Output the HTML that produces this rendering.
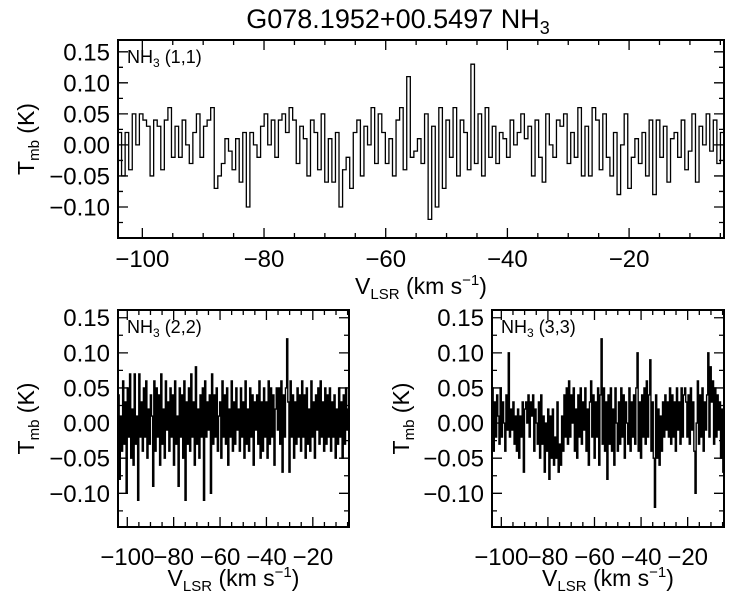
<!DOCTYPE html>
<html><head><meta charset="utf-8"><style>
html,body{margin:0;padding:0;background:#fff;}
svg{display:block;font-family:"Liberation Sans",Arial,sans-serif;}
</style></head><body>
<svg id="fig" width="750" height="600" viewBox="0 0 750 600">
<text x="398" y="28" font-size="27" text-anchor="middle">G078.1952+00.5497 NH<tspan font-size="18" dy="6">3</tspan></text>
</svg>
<script>
const vStart = -104, vEnd = -4.4;
const spec11 = [0.02,-0.05,0.02,-0.04,0.05,0.00,0.05,0.04,0.03,-0.05,0.04,0.03,-0.04,0.04,0.06,-0.02,0.03,-0.02,0.04,0.00,-0.03,0.02,0.05,-0.02,
0.03,0.04,0.06,-0.07,-0.05,-0.03,0.01,-0.01,-0.04,0.01,-0.06,0.02,-0.10,0.02,0.00,-0.02,0.03,
0.05,0.00,0.04,-0.02,0.04,0.05,0.02,0.06,0.04,-0.03,0.03,0.01,-0.05,0.04,0.02,-0.04,0.05,
-0.06,0.01,-0.06,0.02,-0.10,-0.04,-0.02,-0.07,0.02,0.04,-0.05,0.03,0.00,0.06,-0.03,0.05,0.02,
-0.03,0.01,-0.05,0.04,0.06,-0.04,0.11,-0.02,-0.01,0.01,-0.03,0.05,-0.12,0.03,-0.10,0.06,-0.07,
0.04,-0.02,0.06,-0.05,0.04,0.02,-0.04,0.13,-0.03,0.05,-0.05,0.06,-0.02,0.03,-0.03,0.02,0.01,
-0.02,0.04,0.00,0.02,0.05,0.01,0.03,-0.05,0.04,-0.02,-0.06,0.05,0.00,-0.02,0.04,0.03,0.05,
-0.03,0.02,-0.02,0.06,-0.05,0.03,-0.05,0.06,0.04,-0.04,0.05,-0.02,-0.05,0.02,-0.08,0.00,0.05,
-0.07,-0.02,0.01,-0.03,0.02,-0.05,0.04,-0.08,0.04,-0.02,0.03,-0.06,0.01,0.02,-0.02,0.04,-0.04,
-0.01,0.05,-0.06,0.03,0.00,0.05,-0.01,0.04,-0.03,0.02];
const spec22 = [0.04,-0.08,0.01,-0.04,0.06,-0.03,0.03,-0.10,0.05,-0.02,0.07,-0.05,0.02,-0.06,0.07,-0.03,0.01,-0.11,0.07,-0.02,
0.03,-0.04,0.05,-0.02,0.06,-0.05,0.02,-0.03,0.04,0.01,-0.09,0.06,-0.04,0.05,-0.02,0.04,-0.06,0.07,-0.03,0.02,
-0.05,0.06,-0.01,0.03,-0.04,0.05,-0.02,0.04,-0.06,0.06,-0.03,0.01,-0.09,0.05,-0.02,0.04,-0.05,0.06,-0.11,0.03,
-0.03,0.05,-0.04,0.07,-0.02,0.03,-0.06,0.08,-0.03,0.02,-0.05,0.04,-0.02,0.05,-0.11,0.06,-0.02,0.03,-0.01,0.04,
-0.10,0.07,-0.03,0.04,-0.02,0.05,-0.04,0.01,0.03,-0.05,0.06,-0.02,0.04,-0.03,0.05,-0.06,0.02,-0.02,0.06,-0.04,
0.03,-0.03,0.05,-0.01,0.02,-0.04,0.05,-0.02,0.03,-0.05,0.06,-0.03,0.02,-0.04,0.05,-0.02,0.04,-0.06,0.03,-0.01,
0.04,-0.03,0.06,-0.05,0.03,-0.04,0.05,-0.02,0.03,-0.05,0.06,-0.03,0.05,-0.02,0.04,-0.06,0.02,0.05,-0.01,0.05,
-0.03,0.06,-0.07,0.04,-0.02,0.05,0.12,0.03,-0.07,0.06,-0.02,0.04,-0.05,0.03,-0.03,0.05,-0.02,0.04,-0.04,0.06,
-0.02,0.04,-0.05,0.05,-0.03,0.02,-0.04,0.06,-0.02,0.03,-0.05,0.04,-0.01,0.05,-0.03,0.06,-0.02,0.03,-0.04,0.05,
-0.03,0.04,-0.02,0.05,-0.04,0.03,-0.02,0.04,-0.05,0.02,-0.03,0.05,-0.02,0.03,-0.05,0.04,-0.03,0.05,-0.01,0.02];
const spec33 = [0.05,-0.04,0.03,-0.02,0.04,0.01,-0.03,0.05,-0.02,0.03,0.00,-0.04,0.04,-0.01,0.10,-0.02,0.02,-0.01,0.03,-0.03,
0.01,-0.04,0.02,-0.05,0.01,-0.02,0.03,-0.07,0.02,0.03,0.00,0.04,-0.02,0.03,0.01,0.04,-0.04,0.02,0.00,-0.03,
0.03,-0.05,0.04,-0.03,0.01,-0.07,0.00,-0.04,0.02,-0.08,0.01,-0.05,0.02,-0.06,-0.02,-0.05,0.03,-0.07,-0.03,-0.06,
0.01,-0.04,0.04,-0.02,0.05,-0.03,0.06,-0.02,0.04,0.00,0.05,-0.04,0.02,-0.05,0.04,-0.02,0.05,-0.03,0.03,-0.01,
0.05,-0.04,0.02,-0.06,0.03,0.06,-0.02,0.04,-0.05,0.03,-0.02,0.05,-0.06,0.04,0.12,-0.03,0.05,-0.04,0.03,-0.08,
0.04,-0.03,0.05,-0.04,0.02,-0.06,0.05,0.00,-0.04,0.03,-0.03,0.05,-0.02,0.04,-0.05,0.03,0.00,-0.03,0.05,-0.04,
0.03,-0.02,0.04,-0.03,0.05,0.10,-0.04,0.03,-0.05,0.04,-0.02,0.05,-0.03,0.06,-0.02,0.04,0.09,-0.04,0.03,-0.05,
-0.12,0.04,-0.05,0.02,-0.06,0.01,-0.04,0.03,-0.02,0.04,-0.01,0.03,-0.02,0.05,-0.03,0.04,-0.02,0.03,-0.04,0.05,
-0.01,0.03,-0.03,0.05,-0.02,0.04,0.05,0.03,-0.02,0.04,-0.03,0.05,-0.01,0.03,-0.04,-0.10,0.00,0.06,-0.03,0.04,
-0.02,0.05,-0.04,0.03,-0.01,0.04,0.10,-0.02,0.08,0.03,0.06,-0.03,0.05,-0.02,0.04,-0.01,0.03,-0.05,0.02,-0.07];
const yTicks = [0.15,0.10,0.05,0.00,-0.05,-0.10];
const yTickLabels = ["0.15","0.10","0.05","0.00","\u22120.05","\u22120.10"];
const xTicksTop = [-100,-80,-60,-40,-20];
const xTickLabelsTop = ["\u2212100","\u221280","\u221260","\u221240","\u221220"];
const xTicksBottom = [-100,-80,-60,-40,-20];
const xTickLabelsBottom = ["\u2212100","\u221280","\u221260","\u221240","\u221220"];

const NS="http://www.w3.org/2000/svg";
const svg=document.getElementById('fig');
function mk(tag,attrs,parent){const e=document.createElementNS(NS,tag);for(const k in attrs)e.setAttribute(k,attrs[k]);(parent||svg).appendChild(e);return e;}

function panel(o){
  const g=mk('g',{});
  
  
  const X=v=>o.x0+(v-vStart)/(vEnd-vStart)*(o.x1-o.x0);
  const Y=t=>o.y1-(t-o.ymin)/(o.ymax-o.ymin)*(o.y1-o.y0);
  const n=o.data.length, dv=(vEnd-vStart)/n;
  let d='';
  o.data.forEach((t,i)=>{const a=X(vStart+i*dv),b=X(vStart+(i+1)*dv),y=Y(t);
    d+=(i===0?'M'+a.toFixed(2)+','+y.toFixed(2):'V'+y.toFixed(2))+'H'+b.toFixed(2);});
  const cp=mk('clipPath',{id:'c'+o.name},g);mk('rect',{x:o.x0,y:o.y0,width:o.x1-o.x0,height:o.y1-o.y0},cp);
  const p=mk('path',{d:d,fill:'none',stroke:'#000','stroke-width':o.lw,'clip-path':'url(#c'+o.name+')'},g);
  
  
  const box=mk('rect',{x:o.x0,y:o.y0,width:o.x1-o.x0,height:o.y1-o.y0,fill:'none',stroke:'#000','stroke-width':2},g);
  
  
  let td='';
  for(let v=-100;v<=vEnd;v+=5){const x=X(v),L=(v%20===0)?10:5;td+=`M${x},${o.y1}v${-L}M${x},${o.y0}v${L}`;}
  for(let t=-0.125;t<=o.ymax+1e-9;t+=0.025){const y=Y(t);if(y<o.y0||y>o.y1)continue;const L=(Math.abs(Math.round(t*1000))%50===0)?10:5;td+=`M${o.x0},${y}h${L}M${o.x1},${y}h${-L}`;}
  mk('path',{d:td,stroke:'#000','stroke-width':1.3,fill:'none'},g);
  yTicks.forEach((t,i)=>{const e=mk('text',{x:o.x0-8,y:Y(t)+8.5,'font-size':24,'text-anchor':'end'},g);e.textContent=yTickLabels[i];
    
    });
  o.xt.forEach((v,i)=>{const e=mk('text',{x:X(v),y:o.y1+o.xto,'font-size':24,'text-anchor':'middle'},g);e.textContent=o.xl[i];
    
    });
  const xl=mk('text',{x:(o.x0+o.x1)/2,y:o.y1+o.xlo,'font-size':23,'text-anchor':'middle'},g);
  xl.innerHTML='V<tspan font-size="15" dy="5">LSR</tspan><tspan dy="-5"> (km s</tspan><tspan font-size="15" dy="-9">\u22121</tspan><tspan dy="9">)</tspan>';
  
  
  const cy=(o.y0+o.y1)/2;
  const yl=mk('text',{x:o.ylx,y:cy,'font-size':23,'text-anchor':'middle',transform:`rotate(-90 ${o.ylx} ${cy})`},g);
  yl.innerHTML='T<tspan font-size="15" dy="5">mb</tspan><tspan dy="-5"> (K)</tspan>';
  
  
  const lab=mk('text',{x:o.x0+9,y:o.y0+23,'font-size':18},g);
  lab.innerHTML='NH<tspan font-size="12" dy="4">3</tspan><tspan dy="-4"> '+o.label+'</tspan>';
  
  
}
panel({name:'panel-nh3-11',data:spec11,x0:118,x1:724,y0:40,y1:238,ymin:-0.15,ymax:0.169,lw:1.3,xt:xTicksTop,xl:xTickLabelsTop,xto:29,xlo:56,ylx:34,label:'(1,1)'});
panel({name:'panel-nh3-22',data:spec22,x0:118,x1:349,y0:310,y1:527,ymin:-0.148,ymax:0.161,lw:1.4,xt:xTicksBottom,xl:xTickLabelsBottom,xto:38,xlo:59,ylx:34,label:'(2,2)'});
panel({name:'panel-nh3-33',data:spec33,x0:492,x1:724,y0:310,y1:527,ymin:-0.148,ymax:0.161,lw:1.4,xt:xTicksBottom,xl:xTickLabelsBottom,xto:38,xlo:59,ylx:409,label:'(3,3)'});
</script>
</body></html>
